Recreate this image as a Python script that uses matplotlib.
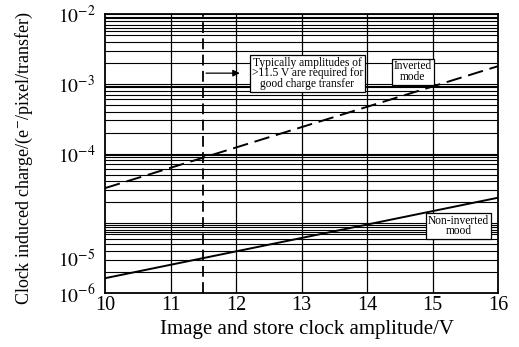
import matplotlib
matplotlib.use("Agg")
import matplotlib.pyplot as plt

plt.rcParams['font.family'] = ['Liberation Serif', 'DejaVu Serif']
plt.rcParams['mathtext.fontset'] = 'stix'

# Data
inverted_x = [10, 16]
inverted_y = [3.2e-5, 1.8e-3]
noninv_x = [10, 16]
noninv_y = [1.63e-6, 2.33e-5]
threshold_v = 11.5

x_ticks = [10, 11, 12, 13, 14, 15, 16]
x_grid = [11, 12, 13, 14, 15]
y_tick_pos = [1e-2, 1e-3, 1e-4, 3.1e-6, 1e-6]
y_tick_labels = [r'$10^{-2}$', r'$10^{-3}$', r'$10^{-4}$', r'$10^{-5}$', r'$10^{-6}$']

decade_mult = {
    1e-6: [1, 2, 3, 4, 5, 6, 7, 7.6, 8, 9, 9.45],
    1e-5: [1, 2, 3, 4, 5, 6, 7, 8, 9, 9.45],
    1e-4: [1, 2, 3, 4, 5, 6, 7, 8, 9, 9.45],
    1e-3: [1, 2, 3, 4, 5, 5.8, 6.4, 7, 8, 8.75, 9.25, 10],
}
y_grid = [d * m for d, ms in decade_mult.items() for m in ms]

fig = plt.figure(figsize=(5.19, 3.47), dpi=100)
ax = fig.add_axes([105 / 519, 1 - 293 / 347, (498 - 105) / 519, (293 - 14.3) / 347])
ax.set_yscale('log')
ax.set_xlim(10, 16)
ax.set_ylim(1e-6, 1e-2)

for g in y_grid:
    ax.axhline(g, color='black', lw=0.8, zorder=1)
for g in x_grid:
    ax.axvline(g, color='black', lw=0.9, zorder=1)

ax.axvline(threshold_v, color='black', lw=1.3, ls=(0, (6, 3)), zorder=2)
ax.plot(inverted_x, inverted_y, color='black', lw=1.4, ls=(0, (8, 3.5)), zorder=3)
ax.plot(noninv_x, noninv_y, color='black', lw=1.4, zorder=3)

ax.set_xticks(x_ticks)
ax.set_xticklabels([str(v) for v in x_ticks])
ax.set_yticks(y_tick_pos, labels=y_tick_labels)
ax.yaxis.set_minor_locator(matplotlib.ticker.NullLocator())
ax.tick_params(axis='both', length=0, labelsize=14.5)
ax.tick_params(axis='y', labelsize=14)
ax.tick_params(axis='x', pad=2)
ax.tick_params(axis='y', pad=7)
for s in ax.spines.values():
    s.set_linewidth(1.3)

ax.set_xlabel('Image and store clock amplitude/V', fontsize=15)
ax.xaxis.set_label_coords(0.515, -0.098)
ax.set_ylabel(r'Clock induced charge/(e$^{-}$/pixel/transfer)', fontsize=13)
ax.yaxis.set_label_coords(-0.178, 0.484)

box = dict(boxstyle='square,pad=0.15', fc='white', ec='black', lw=0.9)
ax.text(13.09, 1.42e-3, 'Typically amplitudes of\n>11.5 V are required for\ngood charge transfer',
        ha='center', va='center', fontsize=8.3, linespacing=0.85, bbox=box, zorder=5)
ax.annotate('', xy=(12.1, 1.43e-3), xytext=(threshold_v, 1.43e-3),
            arrowprops=dict(arrowstyle='-|>', color='black', lw=0.9, mutation_scale=10),
            zorder=5)
ax.text(14.70, 1.5e-3, 'Inverted\nmode', ha='center', va='center', fontsize=8.3,
        linespacing=0.85, bbox=box, zorder=5)
ax.text(15.40, 9.2e-6, 'Non-inverted\nmood', ha='center', va='center', fontsize=8.3,
        linespacing=0.85, bbox=box, zorder=5)

fig.savefig('out.png', dpi=100)
